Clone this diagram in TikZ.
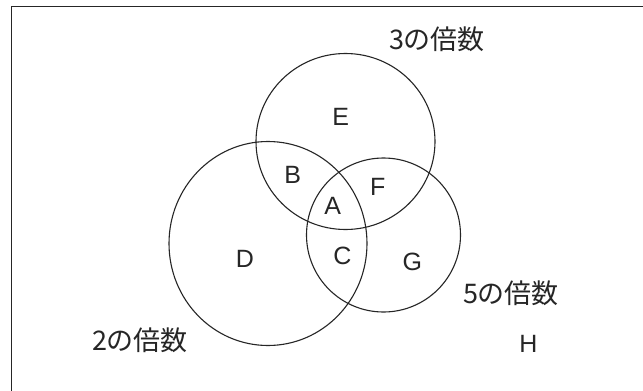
\documentclass[tikz,border=0pt]{standalone}
\usepackage{fontspec}
\usetikzlibrary{shapes.geometric}
\newfontfamily\jpfont{Noto Sans CJK JP}
\newfontfamily\latinfont{Liberation Sans}
\begin{document}
\begin{tikzpicture}[x=1pt,y=-1pt,
  setcircle/.style={draw=black!85,line width=1.1pt,ellipse,inner sep=0pt},
  lbl/.style={font=\latinfont\fontsize{25}{25}\selectfont,text=black!85,inner sep=0pt},
  setname/.style={font=\jpfont\fontsize{27}{27}\selectfont,text=black!85,inner sep=0pt},
  frameline/.style={draw=black!85,line width=1.6pt}]
\useasboundingbox (0,0) rectangle (643,391);
\fill[white] (0,0) rectangle (643,391);
% frame
\coordinate (fl) at (11.5,391);
\coordinate (ftl) at (11.5,6.5);
\coordinate (ftr) at (643,6.5);
\draw[frameline] (fl) -- (ftl) -- (ftr);
% circles
\node[setcircle,minimum width=179pt,minimum height=176pt] (c3) at (345.5,141.5) {};
\node[setcircle,minimum width=198pt,minimum height=204pt] (c2) at (268,243.5) {};
\node[setcircle,minimum width=154pt,minimum height=154pt] (c5) at (383.5,235) {};
% region labels
\node[lbl] (E) at (340.7,117.3) {E};
\node[lbl] (B) at (292.7,175) {B};
\node[lbl] (F) at (377.7,187.3) {F};
\node[lbl] (A) at (332.7,205.5) {A};
\node[lbl] (D) at (245,259.3) {D};
\node[lbl] (C) at (342.3,256) {C};
\node[lbl] (G) at (412.3,261.7) {G};
\node[lbl] (H) at (528.3,344) {H};
% set names
\node[setname] (n3) at (437,39) {3の倍数};
\node[setname] (n5) at (511,293.3) {5の倍数};
\node[setname] (n2) at (140,340) {2の倍数};
\end{tikzpicture}
\end{document}
